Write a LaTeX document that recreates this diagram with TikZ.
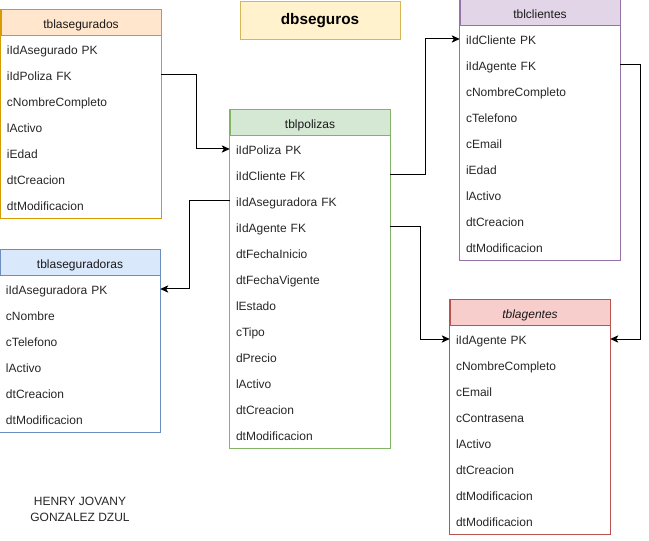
\documentclass[tikz,border=0pt]{standalone}
\usepackage{fontspec}
\setmainfont{Liberation Sans}
\usetikzlibrary{arrows.meta,positioning}
\definecolor{asgfill}{HTML}{FFE6CC}\definecolor{asgline}{HTML}{D79B00}
\definecolor{polfill}{HTML}{D5E8D4}\definecolor{polline}{HTML}{82B366}
\definecolor{clifill}{HTML}{E1D5E7}\definecolor{cliline}{HTML}{9673A6}
\definecolor{asefill}{HTML}{DAE8FC}\definecolor{aseline}{HTML}{6C8EBF}
\definecolor{agefill}{HTML}{F8CECC}\definecolor{ageline}{HTML}{B85450}
\definecolor{dbfill}{HTML}{FFF2CC}\definecolor{dbline}{HTML}{D6B656}

\begin{document}
\begin{tikzpicture}[
  x=0.75pt, y=-0.75pt,
  font=\fontsize{9}{11}\selectfont,
  head/.style={draw, line width=0.75pt, minimum width=120pt, minimum height=19.5pt, inner sep=0pt, text=black!90, text height=8pt, text depth=0pt},
  field/.style={minimum width=120pt, minimum height=19.5pt, text width=111pt, inner xsep=4.5pt, inner ysep=0pt, align=left, text=black!85, text height=8.5pt, text depth=0pt},
  frame/.style={draw=#1, line width=0.75pt},
  arrow/.style={-{Stealth[length=6pt,width=5.5pt,inset=1.5pt]}, line width=0.75pt}
]
\useasboundingbox (0,0) rectangle (649,541);

% title
\node[draw=dbline, fill=dbfill, line width=0.75pt, minimum width=120pt, minimum height=28.5pt, font=\fontsize{11.5}{13}\selectfont\bfseries] (db) at (320,21) {dbseguros};

% tblasegurados
\node[head, draw=asgline, fill=asgfill] (asg) at (81,23) {tblasegurados};
\foreach \t [count=\i] in {iIdAsegurado PK, iIdPoliza FK, cNombreCompleto, lActivo, iEdad, dtCreacion, dtModificacion}
  \node[field] (asg\i) at (81,{23+26*\i}) {\t};
\draw[frame=asgline] (asg.north west) rectangle (asg7.south east);

% tblaseguradoras
\node[head, draw=aseline, fill=asefill] (ase) at (80,263) {tblaseguradoras};
\foreach \t [count=\i] in {iIdAseguradora PK, cNombre, cTelefono, lActivo, dtCreacion, dtModificacion}
  \node[field] (ase\i) at (80,{263+26*\i}) {\t};
\draw[frame=aseline] (ase.north west) rectangle (ase6.south east);

% tblpolizas
\node[head, draw=polline, fill=polfill] (pol) at (310,123) {tblpolizas};
\foreach \t [count=\i] in {iIdPoliza PK, iIdCliente FK, iIdAseguradora FK, iIdAgente FK, dtFechaInicio, dtFechaVigente, lEstado, cTipo, dPrecio, lActivo, dtCreacion, dtModificacion}
  \node[field] (pol\i) at (310,{123+26*\i}) {\t};
\draw[frame=polline] (pol.north west) rectangle (pol12.south east);

% tblclientes
\node[head, draw=cliline, fill=clifill] (cli) at (540,13) {tblclientes};
\foreach \t [count=\i] in {iIdCliente PK, iIdAgente FK, cNombreCompleto, cTelefono, cEmail, iEdad, lActivo, dtCreacion, dtModificacion}
  \node[field] (cli\i) at (540,{13+26*\i}) {\t};
\draw[frame=cliline] (cli.north west) rectangle (cli9.south east);

% tblagentes
\node[head, draw=ageline, fill=agefill, font=\fontsize{9}{11}\selectfont\itshape] (age) at (530,313) {tblagentes};
\foreach \t [count=\i] in {iIdAgente PK, cNombreCompleto, cEmail, cContrasena, lActivo, dtCreacion, dtModificacion, dtModificacion}
  \node[field] (age\i) at (530,{313+26*\i}) {\t};
\draw[frame=ageline] (age.north west) rectangle (age8.south east);

% author
\node[align=center, font=\fontsize{9}{12}\selectfont, text=black!85] (autor) at (80,509) {HENRY JOVANY\\GONZALEZ DZUL};

% relations
\draw[arrow] (asg2.east) -- ++(35,0) |- (pol1.west);
\draw[arrow] (pol2.east) -- ++(35,0) |- (cli1.west);
\draw[arrow] (pol3.west) -- ++(-40,0) |- (ase1.east);
\draw[arrow] (pol4.east) -- ++(30,0) |- (age1.west);
\draw[arrow] (cli2.east) -- ++(20,0) |- (age1.east);
\end{tikzpicture}
\end{document}
